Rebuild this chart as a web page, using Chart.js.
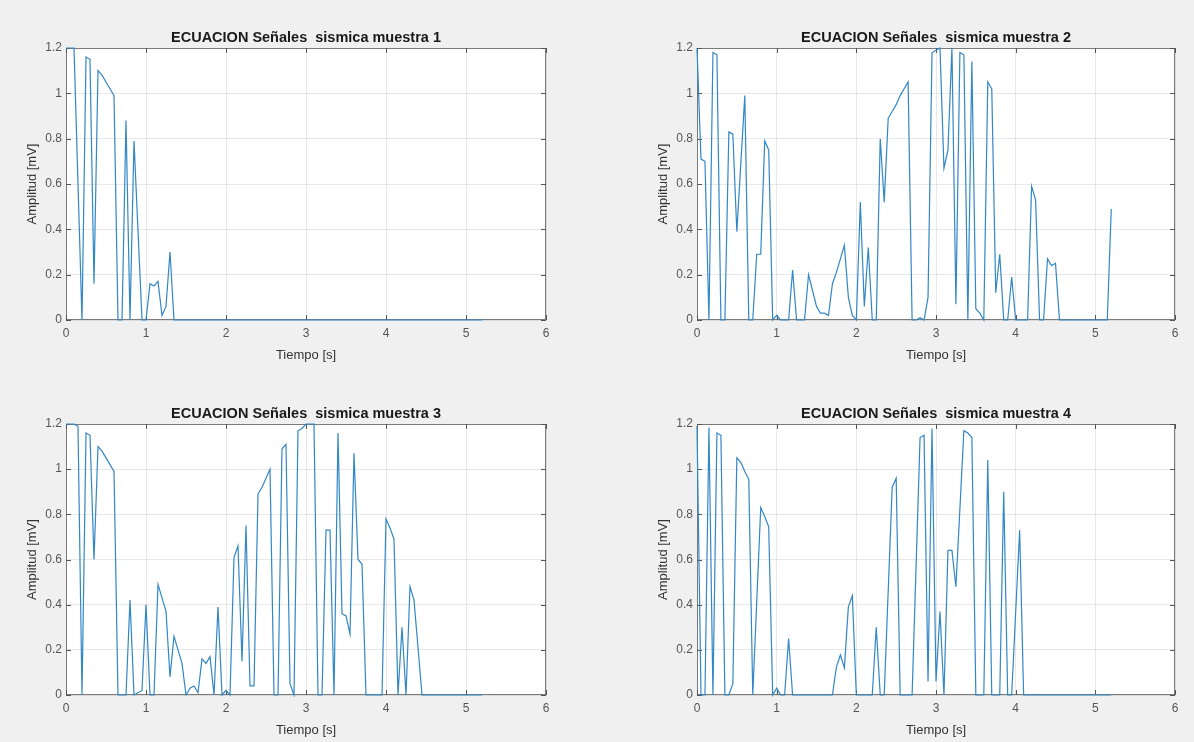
<!DOCTYPE html>
<html>
<head>
<meta charset="utf-8">
<script src="https://cdn.jsdelivr.net/npm/chart.js@4.4.1/dist/chart.umd.min.js"></script>
<style>
  html, body { margin: 0; padding: 0; }
  body { width: 1194px; height: 742px; background: #f0f0f0; position: relative; overflow: hidden; }
  canvas { position: absolute; }
</style>
</head>
<body>
<canvas id="c1"></canvas>
<canvas id="c2"></canvas>
<canvas id="c3"></canvas>
<canvas id="c4"></canvas>
<script>
// muestra 1
const tiempo1 = [0, 0.1, 0.2, 0.25, 0.3, 0.35, 0.4, 0.45, 0.5, 0.55,
  0.6, 0.65, 0.7, 0.75, 0.8, 0.85, 0.95, 1.0, 1.05, 1.1,
  1.15, 1.2, 1.25, 1.3, 1.35, 5.2];
const amp1 = [1.2, 1.2, 0, 1.16, 1.15, 0.16, 1.10, 1.08, 1.05, 1.02,
  0.99, 0, 0, 0.88, 0, 0.79, 0, 0, 0.16, 0.15,
  0.17, 0.02, 0.06, 0.30, 0, 0];

// muestra 2
const tiempo2 = [0, 0.05, 0.1, 0.15, 0.2, 0.25, 0.3, 0.35, 0.4, 0.45,
  0.5, 0.6, 0.65, 0.7, 0.75, 0.8, 0.85, 0.9, 0.95, 1.0,
  1.05, 1.15, 1.2, 1.25, 1.35, 1.4, 1.5, 1.55, 1.6, 1.65,
  1.7, 1.75, 1.8, 1.85, 1.9, 1.95, 2.0, 2.05, 2.1, 2.15,
  2.2, 2.25, 2.3, 2.35, 2.4, 2.45, 2.5, 2.55, 2.6, 2.65,
  2.7, 2.75, 2.8, 2.85, 2.9, 2.95, 3.0, 3.05, 3.1, 3.15,
  3.2, 3.25, 3.3, 3.35, 3.4, 3.45, 3.5, 3.55, 3.6, 3.65,
  3.7, 3.75, 3.8, 3.85, 3.9, 3.95, 4.0, 4.15, 4.2, 4.25,
  4.3, 4.35, 4.4, 4.45, 4.5, 4.55, 5.15, 5.2];
const amp2 = [1.2, 0.71, 0.70, 0, 1.18, 1.17, 0, 0, 0.83, 0.82,
  0.39, 0.99, 0, 0, 0.29, 0.29, 0.79, 0.75, 0, 0.02,
  0, 0, 0.22, 0, 0, 0.20, 0.06, 0.03, 0.03, 0.02,
  0.16, 0.21, 0.27, 0.33, 0.10, 0.02, 0, 0.52, 0.06, 0.32,
  0, 0, 0.80, 0.52, 0.89, 0.92, 0.95, 0.99, 1.02, 1.05,
  0, 0, 0.01, 0, 0.10, 1.18, 1.19, 1.2, 0.67, 0.75,
  1.2, 0.07, 1.18, 1.17, 0, 1.14, 0.05, 0.03, 0, 1.05,
  1.02, 0.12, 0.29, 0, 0, 0.19, 0, 0, 0.59, 0.53,
  0, 0, 0.27, 0.24, 0.25, 0, 0, 0.49];

// muestra 3
const tiempo3 = [0, 0.1, 0.15, 0.2, 0.25, 0.3, 0.35, 0.4, 0.45, 0.5,
  0.55, 0.6, 0.65, 0.75, 0.8, 0.85, 0.95, 1.0, 1.05, 1.1,
  1.15, 1.2, 1.25, 1.3, 1.35, 1.4, 1.45, 1.5, 1.55, 1.6,
  1.65, 1.7, 1.75, 1.8, 1.85, 1.9, 1.95, 2.0, 2.05, 2.1,
  2.15, 2.2, 2.25, 2.3, 2.35, 2.4, 2.45, 2.5, 2.55, 2.6,
  2.65, 2.7, 2.75, 2.8, 2.85, 2.9, 2.95, 3.0, 3.1, 3.15,
  3.2, 3.25, 3.3, 3.35, 3.4, 3.45, 3.5, 3.55, 3.6, 3.65,
  3.7, 3.75, 3.95, 4.0, 4.05, 4.1, 4.15, 4.2, 4.25, 4.3,
  4.35, 4.45, 5.2];
const amp3 = [1.2, 1.2, 1.19, 0, 1.16, 1.15, 0.60, 1.10, 1.08, 1.05,
  1.02, 0.99, 0, 0, 0.42, 0, 0.02, 0.40, 0, 0,
  0.49, 0.43, 0.37, 0.08, 0.26, 0.20, 0.14, 0, 0.03, 0.04,
  0.01, 0.16, 0.14, 0.17, 0, 0.39, 0, 0.02, 0, 0.61,
  0.66, 0.15, 0.75, 0.04, 0.04, 0.89, 0.92, 0.96, 1.0, 0,
  0, 1.09, 1.11, 0.05, 0, 1.17, 1.18, 1.2, 1.2, 0,
  0, 0.73, 0.73, 0, 1.16, 0.36, 0.35, 0.27, 1.07, 0.60,
  0.58, 0, 0, 0.78, 0.74, 0.69, 0, 0.30, 0, 0.48,
  0.42, 0, 0];

// muestra 4
const tiempo4 = [0, 0.05, 0.1, 0.15, 0.2, 0.25, 0.3, 0.35, 0.4, 0.45,
  0.5, 0.55, 0.6, 0.65, 0.7, 0.8, 0.85, 0.9, 0.95, 1.0,
  1.05, 1.1, 1.15, 1.2, 1.7, 1.75, 1.8, 1.85, 1.9, 1.95,
  2.0, 2.2, 2.25, 2.3, 2.35, 2.45, 2.5, 2.55, 2.7, 2.8,
  2.85, 2.9, 2.95, 3.0, 3.05, 3.1, 3.15, 3.2, 3.25, 3.35,
  3.4, 3.45, 3.5, 3.6, 3.65, 3.7, 3.8, 3.85, 3.9, 3.95,
  4.05, 4.1, 5.2];
const amp4 = [1.19, 0, 0, 1.185, 0, 1.16, 1.15, 0, 0, 0.05,
  1.05, 1.03, 0.99, 0.955, 0, 0.83, 0.79, 0.745, 0, 0.03,
  0, 0, 0.25, 0, 0, 0.125, 0.177, 0.12, 0.39, 0.44,
  0, 0, 0.30, 0, 0, 0.92, 0.96, 0, 0, 1.14,
  1.15, 0.06, 1.18, 0.06, 0.37, 0, 0.64, 0.64, 0.48, 1.17,
  1.16, 1.14, 0, 0, 1.04, 0, 0, 0.90, 0, 0,
  0.73, 0, 0];

const titulos = [
  'ECUACION Señales  sismica muestra 1',
  'ECUACION Señales  sismica muestra 2',
  'ECUACION Señales  sismica muestra 3',
  'ECUACION Señales  sismica muestra 4'
];
const xLabel = 'Tiempo [s]';
const yLabel = 'Amplitud [mV]';

const FONT = "'Liberation Sans', Arial, Helvetica, sans-serif";

// white axes background
const axesBg = {
  id: 'axesBg',
  beforeDraw(chart) {
    const { ctx, chartArea: a } = chart;
    ctx.save();
    ctx.fillStyle = '#ffffff';
    ctx.fillRect(a.left, a.top, a.right - a.left, a.bottom - a.top);
    ctx.restore();
  }
};

// box around the axes plus matlab-style inner ticks
const axesBox = {
  id: 'axesBox',
  beforeDatasetsDraw(chart) {
    const { ctx, chartArea: a, scales } = chart;
    ctx.save();
    ctx.strokeStyle = '#7a7a7a';
    ctx.lineWidth = 1;
    ctx.strokeRect(a.left + 0.5, a.top + 0.5, a.right - a.left - 1, a.bottom - a.top - 1);
    ctx.strokeStyle = '#555';
    ctx.beginPath();
    scales.x.ticks.forEach(t => {
      const px = Math.round(scales.x.getPixelForValue(t.value)) + 0.5;
      ctx.moveTo(px, a.bottom); ctx.lineTo(px, a.bottom - 5);
      ctx.moveTo(px, a.top); ctx.lineTo(px, a.top + 5);
    });
    scales.y.ticks.forEach(t => {
      const py = Math.round(scales.y.getPixelForValue(t.value)) + 0.5;
      ctx.moveTo(a.left, py); ctx.lineTo(a.left + 5, py);
      ctx.moveTo(a.right, py); ctx.lineTo(a.right - 5, py);
    });
    ctx.stroke();
    ctx.restore();
  }
};

function makePanel(id, rect, titulo, tiempo, amp) {
  const cv = document.getElementById(id);
  // same margin left and right so the title centres over the axes
  const padL = 50, padT = 35, padB = 50, padR = 50;
  cv.width = rect.w + padL + padR;
  cv.height = rect.h + padT + padB;
  cv.style.left = (rect.x - padL) + 'px';
  cv.style.top = (rect.y - padT) + 'px';

  new Chart(cv, {
    type: 'line',
    data: {
      datasets: [{
        data: tiempo.map((t, i) => ({ x: t, y: amp[i] })),
        borderColor: '#3287c6',
        borderWidth: 1.2,
        pointRadius: 0,
        tension: 0,
        fill: false,
        clip: 2
      }]
    },
    options: {
      responsive: false,
      animation: false,
      layout: { padding: 0 },
      plugins: {
        legend: { display: false },
        tooltip: { enabled: false },
        title: {
          display: true,
          text: titulo,
          color: '#1a1a1a',
          font: { family: FONT, size: 14.5, weight: 'bold' },
          padding: { top: padT - 17.4 - 1, bottom: 1 }
        }
      },
      scales: {
        x: {
          type: 'linear',
          min: 0, max: 6,
          afterFit: s => { s.height = padB; },
          grid: { color: 'rgba(0,0,0,0.09)', drawTicks: false },
          border: { display: false },
          ticks: {
            stepSize: 1, padding: 6, color: '#555',
            font: { family: FONT, size: 12 },
            callback: v => String(v)
          },
          title: {
            display: true, text: xLabel, color: '#333',
            font: { family: FONT, size: 13 },
            padding: { top: 0, bottom: 7 }
          }
        },
        y: {
          min: 0, max: 1.2,
          afterFit: s => { s.width = padL; },
          grid: { color: 'rgba(0,0,0,0.09)', drawTicks: false },
          border: { display: false },
          ticks: {
            stepSize: 0.2, padding: 4, color: '#555',
            font: { family: FONT, size: 12 },
            callback: v => String(Number(v.toFixed(1)))
          },
          title: {
            display: true, text: yLabel, color: '#333',
            font: { family: FONT, size: 13 },
            padding: { top: 9, bottom: 0 }
          }
        },
        // empty right-hand axis, only reserves the right margin
        yRight: {
          position: 'right',
          min: 0, max: 1.2,
          afterFit: s => { s.width = padR; },
          grid: { display: false },
          border: { display: false },
          ticks: { display: false }
        }
      }
    },
    plugins: [axesBg, axesBox]
  });
}

makePanel('c1', { x: 66, y: 48, w: 480, h: 272 }, titulos[0], tiempo1, amp1);
makePanel('c2', { x: 697, y: 48, w: 478, h: 272 }, titulos[1], tiempo2, amp2);
makePanel('c3', { x: 66, y: 424, w: 480, h: 271 }, titulos[2], tiempo3, amp3);
makePanel('c4', { x: 697, y: 424, w: 478, h: 271 }, titulos[3], tiempo4, amp4);
</script>
</body>
</html>
